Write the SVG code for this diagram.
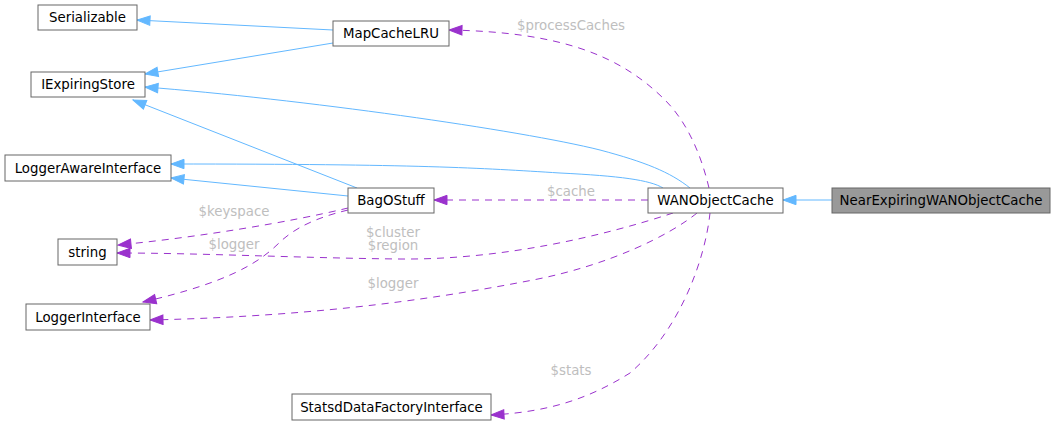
<svg xmlns="http://www.w3.org/2000/svg" width="1056" height="425" viewBox="0 0 1056 425">
<style>
.n rect{fill:#ffffff;stroke:#666666;stroke-width:1}
.n text{font-family:"DejaVu Sans",sans-serif;font-size:13.33px;fill:#000000;text-anchor:middle}
.sel rect{fill:#999999}
.inh{fill:none;stroke:#63b8ff;stroke-width:1}
.use{fill:none;stroke:#9a32cd;stroke-width:1;stroke-dasharray:7,6}
.lbl{font-family:"DejaVu Sans",sans-serif;font-size:13.33px;fill:#bebebe;text-anchor:middle}
</style>
<defs>
<marker id="ab" markerUnits="userSpaceOnUse" markerWidth="16" markerHeight="12" refX="14" refY="6" orient="auto"><path d="M1,1.3 L14,6 L1,10.7 z" fill="#63b8ff" stroke="#63b8ff"/></marker>
<marker id="ap" markerUnits="userSpaceOnUse" markerWidth="16" markerHeight="12" refX="14" refY="6" orient="auto"><path d="M1,1.3 L14,6 L1,10.7 z" fill="#9a32cd" stroke="#9a32cd"/></marker>
</defs>
<rect width="1056" height="425" fill="#ffffff"/>
<g id="connectors">
<path class="inh" marker-end="url(#ab)" d="M333,30 L137,20"/>
<path class="inh" marker-end="url(#ab)" d="M333,43 L145,74"/>
<path class="inh" marker-end="url(#ab)" d="M690,188 C670,172 645,162 600,150 C520,130 300,99 145,87"/>
<path class="inh" marker-end="url(#ab)" d="M357,188 L133,100"/>
<path class="inh" marker-end="url(#ab)" d="M663,188 C650,180 620,176 560,173 C480,168 420,164 171,164"/>
<path class="inh" marker-end="url(#ab)" d="M348,196 L171,178"/>
<path class="inh" marker-end="url(#ab)" d="M832,200 L783,200"/>
<path class="use" marker-end="url(#ap)" d="M648,200 L434,200"/>
<path class="use" marker-end="url(#ap)" d="M709,188 C700,150 685,120 665,100 C620,55 560,32 449,30"/>
<path class="use" marker-end="url(#ap)" d="M673,213 C600,237 500,260 400,259 C300,258 200,253 117,253"/>
<path class="use" marker-end="url(#ap)" d="M697,213 C670,235 610,265 533,280 C450,296 330,316 150,320"/>
<path class="use" marker-end="url(#ap)" d="M348,208 C290,222 200,237 118,245"/>
<path class="use" marker-end="url(#ap)" d="M348,210 C315,218 295,228 280,242 C260,262 230,282 143,302"/>
<path class="use" marker-end="url(#ap)" d="M710,213 C705,260 680,330 630,373 C590,398 550,412 491,415"/>
<text class="lbl" x="571" y="30">$processCaches</text>
<text class="lbl" x="571" y="196">$cache</text>
<text class="lbl" x="234" y="216">$keyspace</text>
<text class="lbl" x="234" y="249">$logger</text>
<text class="lbl" x="393" y="237">$cluster</text>
<text class="lbl" x="393" y="250">$region</text>
<text class="lbl" x="393" y="288">$logger</text>
<text class="lbl" x="571" y="375">$stats</text>
</g>
<g id="Serializable" class="n"><rect x="38" y="5" width="99" height="25"/><text x="87.5" y="22">Serializable</text></g>
<g id="IExpiringStore" class="n"><rect x="31" y="72" width="114" height="25"/><text x="88" y="89">IExpiringStore</text></g>
<g id="LoggerAwareInterface" class="n"><rect x="5" y="155" width="166" height="26"/><text x="88" y="172.5">LoggerAwareInterface</text></g>
<g id="string" class="n"><rect x="58" y="239" width="59" height="26"/><text x="87.5" y="256.5">string</text></g>
<g id="LoggerInterface" class="n"><rect x="26" y="304" width="124" height="26"/><text x="88" y="321.5">LoggerInterface</text></g>
<g id="MapCacheLRU" class="n"><rect x="333" y="21" width="116" height="25"/><text x="391" y="38">MapCacheLRU</text></g>
<g id="BagOStuff" class="n"><rect x="348" y="188" width="86" height="25"/><text x="391" y="205">BagOStuff</text></g>
<g id="WANObjectCache" class="n"><rect x="648" y="188" width="135" height="25"/><text x="715.5" y="205">WANObjectCache</text></g>
<g id="NearExpiringWANObjectCache" class="n sel"><rect x="832" y="188" width="218" height="25"/><text x="941" y="205">NearExpiringWANObjectCache</text></g>
<g id="StatsdDataFactoryInterface" class="n"><rect x="292" y="394" width="199" height="26"/><text x="391.5" y="411.5">StatsdDataFactoryInterface</text></g>
</svg>
